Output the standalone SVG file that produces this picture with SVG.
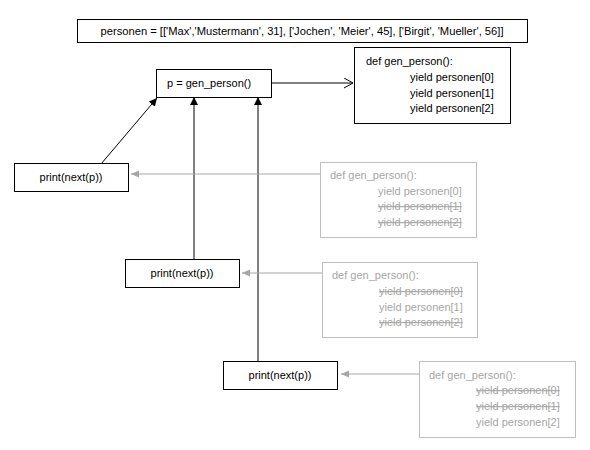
<svg xmlns="http://www.w3.org/2000/svg" width="590" height="450" viewBox="0 0 590 450">
<defs>
<style>
text{font-family:"Liberation Sans",Arial,sans-serif;font-size:11px;fill:#000}
.box{fill:#fff;stroke:#000;stroke-width:1}
.gbox{fill:#fff;stroke:#bfbfbf;stroke-width:1}
.g{fill:#a6a6a6}
.s{text-decoration:line-through}
.ln{stroke:#000;stroke-width:1;fill:none}
.gln{stroke:#a6a6a6;stroke-width:1;fill:none}
</style>
<marker id="ah" markerWidth="10" markerHeight="10" refX="8" refY="4" orient="auto" markerUnits="userSpaceOnUse"><path d="M0,0 L8,4 L0,8 Z" fill="#000"/></marker>
<marker id="gh" markerWidth="10" markerHeight="10" refX="8" refY="3.5" orient="auto" markerUnits="userSpaceOnUse"><path d="M0,0 L8,3.5 L0,7 Z" fill="#a6a6a6"/></marker>
<marker id="oh" markerWidth="12" markerHeight="12" refX="9" refY="5" orient="auto" markerUnits="userSpaceOnUse"><path d="M0,0 L9,5 L0,10" fill="none" stroke="#000" stroke-width="1"/></marker>
</defs>
<rect width="590" height="450" fill="#fff"/>
<g id="connectors">
<line class="ln" x1="272" y1="83" x2="353" y2="83" marker-end="url(#oh)"/>
<line class="ln" x1="101" y1="164" x2="157" y2="98" marker-end="url(#ah)"/>
<line class="ln" x1="194" y1="259" x2="194" y2="97" marker-end="url(#ah)"/>
<line class="ln" x1="258" y1="361" x2="258" y2="97" marker-end="url(#ah)"/>
<line class="gln" x1="321" y1="174" x2="131" y2="174" marker-end="url(#gh)"/>
<line class="gln" x1="322" y1="273" x2="242" y2="273" marker-end="url(#gh)"/>
<line class="gln" x1="419" y1="374" x2="341" y2="374" marker-end="url(#gh)"/>
</g>
<g id="personen">
<rect class="box" x="77.5" y="19.5" width="450" height="23"/>
<text x="302" y="35" text-anchor="middle" textLength="403" lengthAdjust="spacingAndGlyphs">personen = [['Max','Mustermann', 31], ['Jochen', 'Meier', 45], ['Birgit', 'Mueller', 56]]</text>
</g>
<g id="p">
<rect class="box" x="156.5" y="69.5" width="115" height="28"/>
<text x="167" y="87">p = gen_person()</text>
</g>
<g id="def0">
<rect class="box" x="354.5" y="47.5" width="156" height="76"/>
<text x="366" y="65">def gen_person():</text>
<text x="410" y="81">yield personen[0]</text>
<text x="410" y="97">yield personen[1]</text>
<text x="410" y="112">yield personen[2]</text>
</g>
<g id="print1">
<rect class="box" x="14.5" y="163.5" width="114" height="28"/>
<text x="71" y="181" text-anchor="middle">print(next(p))</text>
</g>
<g id="def1">
<rect class="gbox" x="320.5" y="162.5" width="156" height="75"/>
<text class="g" x="330" y="179">def gen_person():</text>
<text class="g" x="378" y="195">yield personen[0]</text>
<text class="g s" x="378" y="210">yield personen[1]</text>
<text class="g s" x="378" y="226">yield personen[2]</text>
</g>
<g id="print2">
<rect class="box" x="125.5" y="259.5" width="114" height="28"/>
<text x="182" y="277" text-anchor="middle">print(next(p))</text>
</g>
<g id="def2">
<rect class="gbox" x="322.5" y="262.5" width="155" height="75"/>
<text class="g" x="332" y="279">def gen_person():</text>
<text class="g s" x="379" y="295">yield personen[0]</text>
<text class="g" x="379" y="311">yield personen[1]</text>
<text class="g s" x="379" y="326">yield personen[2]</text>
</g>
<g id="print3">
<rect class="box" x="223.5" y="361.5" width="114" height="28"/>
<text x="280" y="379" text-anchor="middle">print(next(p))</text>
</g>
<g id="def3">
<rect class="gbox" x="419.5" y="361.5" width="156" height="76"/>
<text class="g" x="429" y="379">def gen_person():</text>
<text class="g s" x="476" y="394">yield personen[0]</text>
<text class="g s" x="476" y="410">yield personen[1]</text>
<text class="g" x="476" y="426">yield personen[2]</text>
</g>
</svg>
